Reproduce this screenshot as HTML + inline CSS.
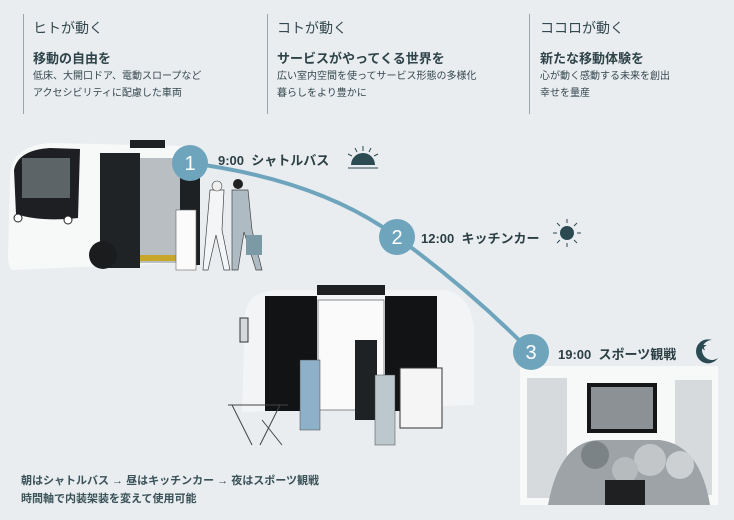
<!DOCTYPE html>
<html><head><meta charset="utf-8"><style>
body{margin:0;width:734px;height:520px;background:#e9edf0;position:relative;overflow:hidden;font-family:"Liberation Sans","Noto Sans CJK JP",sans-serif;color:#2c4148}
.a{position:absolute;white-space:nowrap}
.v{position:absolute;top:14px;width:1px;height:100px;background:#9aa5aa}
.t{font-size:14px;color:#34494f}
.s{font-size:13px;font-weight:bold;color:#2e4349}
.d{font-size:10px;line-height:17px;color:#33474d}
.lb{font-size:13px;font-weight:bold;color:#2b3f45}
</style></head><body>
<div class="v" style="left:23px"></div>
<div class="v" style="left:267px"></div>
<div class="v" style="left:529px"></div>
<div class="a t" style="left:33px;top:18px">ヒトが動く</div>
<div class="a s" style="left:33px;top:48px">移動の自由を</div>
<div class="a d" style="left:33px;top:68px">低床、大開口ドア、電動スロープなど<br>アクセシビリティに配慮した車両</div>
<div class="a t" style="left:277px;top:18px">コトが動く</div>
<div class="a s" style="left:277px;top:48px">サービスがやってくる世界を</div>
<div class="a d" style="left:277px;top:68px">広い室内空間を使ってサービス形態の多様化<br>暮らしをより豊かに</div>
<div class="a t" style="left:540px;top:18px">ココロが動く</div>
<div class="a s" style="left:540px;top:48px">新たな移動体験を</div>
<div class="a d" style="left:540px;top:68px">心が動く感動する未来を創出<br>幸せを量産</div>

<svg class="a" style="left:0;top:0" width="734" height="520">
<!-- bus 1 -->
<path d="M10 175 Q12 146 50 143 L185 146 Q200 150 200 175 L200 262 L12 270 Q8 268 8 255 Z" fill="#f7f8f8"/>
<path d="M14 170 Q18 150 50 148 L80 149 L78 218 Q40 222 16 214 Z" fill="#1d1f22"/>
<rect x="22" y="158" width="48" height="40" fill="#5d6468"/>
<circle cx="18" cy="218" r="4" fill="#fff" stroke="#222"/>
<circle cx="68" cy="220" r="4" fill="#fff" stroke="#222"/>
<rect x="100" y="153" width="40" height="115" fill="#202326"/>
<rect x="140" y="158" width="40" height="105" fill="#b9bec2"/>
<rect x="180" y="160" width="20" height="105" fill="#1e2124"/>
<rect x="130" y="140" width="35" height="8" fill="#1e2124"/>
<circle cx="103" cy="255" r="14" fill="#1a1c1e"/>
<rect x="140" y="255" width="45" height="6" fill="#c8a62a"/>
<!-- people 1 -->
<rect x="176" y="210" width="20" height="60" fill="#fbfbfb" stroke="#666" stroke-width="0.6"/>
<path d="M210 190 l14 0 l-2 40 l8 40 l-6 0 l-8-35 l-8 35 l-5 0 z" fill="#f4f5f6" stroke="#444" stroke-width="0.7"/>
<path d="M232 190 l16 0 l4 40 l10 40 l-6 0 l-12-38 l-6 38 l-6 0 z" fill="#aebbc2" stroke="#444" stroke-width="0.7"/>
<circle cx="217" cy="186" r="5" fill="#eee" stroke="#444" stroke-width="0.6"/>
<circle cx="238" cy="184" r="5" fill="#222"/>
<rect x="246" y="235" width="16" height="20" fill="#7c9aa6"/>
<!-- bus 2 -->
<path d="M245 312 Q250 290 280 290 L445 290 Q472 296 474 330 L474 405 L242 412 Z" fill="#f3f4f5"/>
<rect x="265" y="296" width="52" height="115" fill="#111315"/>
<rect x="385" y="296" width="52" height="115" fill="#111315"/>
<rect x="318" y="300" width="66" height="110" fill="#fafafa" stroke="#444" stroke-width="0.6"/>
<rect x="317" y="285" width="68" height="10" fill="#1d1f21"/>
<rect x="240" y="318" width="8" height="24" fill="#d5d9db" stroke="#333"/>
<rect x="300" y="360" width="20" height="70" fill="#8eb0c8" stroke="#444" stroke-width="0.5"/>
<rect x="355" y="340" width="22" height="80" fill="#1f2225"/>
<rect x="375" y="375" width="20" height="70" fill="#bcc8ce" stroke="#444" stroke-width="0.5"/>
<rect x="400" y="368" width="42" height="60" fill="#f5f5f5" stroke="#333" stroke-width="1"/>
<path d="M228 405 l60 0 M232 405 l20 40 M280 405 l-20 40 M262 420 l20 25" stroke="#444" stroke-width="1" fill="none"/>
<!-- stadium -->
<rect x="520" y="366" width="198" height="139" fill="#f7f8f8"/>
<rect x="527" y="378" width="40" height="120" fill="#d6dadc"/>
<rect x="675" y="380" width="37" height="115" fill="#d6dadc"/>
<rect x="587" y="383" width="70" height="50" fill="#141618"/>
<rect x="591" y="387" width="62" height="42" fill="#8b9195"/>
<path d="M548 505 Q560 440 600 440 L660 440 Q700 445 710 505 Z" fill="#9da3a7"/>
<circle cx="595" cy="455" r="14" fill="#7c8387"/>
<circle cx="650" cy="460" r="16" fill="#c2c6c8"/>
<circle cx="625" cy="470" r="13" fill="#b6bbbe"/>
<circle cx="680" cy="465" r="14" fill="#ccd0d2"/>
<rect x="605" y="480" width="40" height="25" fill="#1e2022"/>
<!-- curve -->
<path d="M190 163 Q320 180 397 237 Q470 290 531 352" fill="none" stroke="#6ea5bd" stroke-width="4"/>
<g fill="#6ea5bd"><circle cx="190" cy="163" r="18"/><circle cx="397" cy="237" r="18"/><circle cx="531" cy="352" r="18"/></g>
<g fill="#fff" font-size="20" font-family="Liberation Sans,sans-serif" text-anchor="middle"><text x="190" y="170">1</text><text x="397" y="244">2</text><text x="531" y="359">3</text></g>
<!-- icons -->
<path d="M351 165 A12 12 0 0 1 375 165 Z" fill="#2b4a52"/>
<line x1="348" y1="168" x2="378" y2="168" stroke="#2b4a52" stroke-width="1"/>
<g stroke="#2b4a52" stroke-width="1"><line x1="363" y1="146" x2="363" y2="151"/><line x1="355" y1="148" x2="357" y2="152"/><line x1="371" y1="148" x2="369" y2="152"/><line x1="348" y1="154" x2="352" y2="156"/><line x1="378" y1="154" x2="374" y2="156"/></g>
<circle cx="567" cy="233" r="7" fill="#2b4a52"/>
<g stroke="#2b4a52" stroke-width="1"><line x1="567" y1="219" x2="567" y2="223"/><line x1="567" y1="243" x2="567" y2="247"/><line x1="553" y1="233" x2="557" y2="233"/><line x1="577" y1="233" x2="581" y2="233"/><line x1="557" y1="223" x2="560" y2="226"/><line x1="577" y1="243" x2="574" y2="240"/><line x1="577" y1="223" x2="574" y2="226"/><line x1="557" y1="243" x2="560" y2="240"/></g>
<path d="M712 340 A12 12 0 1 0 718 358 A10 10 0 1 1 712 340 Z" fill="#2b4a52"/>
<text x="697" y="350" font-size="10" fill="#2b4a52">★</text>
</svg>
<div class="a lb" style="left:218px;top:150px">9:00&nbsp; シャトルバス</div>
<div class="a lb" style="left:421px;top:228px">12:00&nbsp; キッチンカー</div>
<div class="a lb" style="left:558px;top:344px">19:00&nbsp; スポーツ観戦</div>
<div class="a" style="left:21px;top:472px;font-size:11px;line-height:18px;font-weight:bold;color:#3a5258">朝はシャトルバス → 昼はキッチンカー → 夜はスポーツ観戦<br>時間軸で内装架装を変えて使用可能</div>
</body></html>
